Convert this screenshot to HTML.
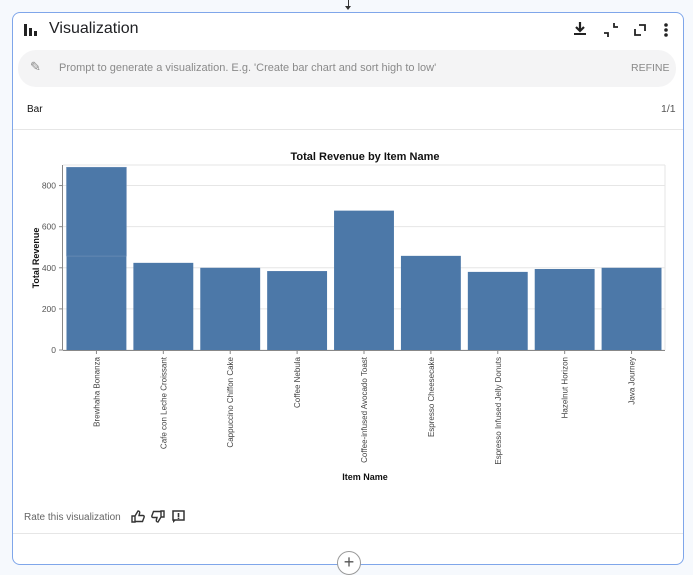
<!DOCTYPE html>
<html><head><meta charset="utf-8"><style>
body{margin:0;width:693px;height:574px;background:#f6f9fd;font-family:"Liberation Sans",sans-serif;position:relative;overflow:hidden}
.card{position:absolute;left:12px;top:12px;width:670px;height:551px;background:#fff;border:1px solid #7fa6ea;border-radius:8px}
.abs{position:absolute}
</style></head><body>
<div class="abs" style="left:348px;top:0;width:1px;height:8px;background:#333"></div>
<div class="abs" style="left:345px;top:6px;width:0;height:0;border-left:3px solid transparent;border-right:3px solid transparent;border-top:4px solid #333"></div>
<div class="card">
 <svg class="abs" style="left:10px;top:9px" width="16" height="16"><rect x="1" y="2" width="3" height="12" fill="#222"/><rect x="6" y="6" width="3" height="8" fill="#222"/><rect x="11" y="9" width="3" height="5" fill="#222"/></svg>
 <div class="abs" style="left:36px;top:7px;font-size:16px;color:#202124">Visualization</div>
 <div class="abs" style="left:560px;top:8px;font-size:14px">
  <svg width="14" height="16"><path d="M7 1v8M3 6l4 4 4-4" stroke="#222" stroke-width="2.2" fill="none"/><rect x="1" y="12" width="12" height="2" fill="#222"/></svg></div>
 <svg class="abs" style="left:590px;top:9px" width="16" height="16"><path d="M1 11h4v4M15 5h-4V1" stroke="#222" stroke-width="1.8" fill="none"/></svg>
 <svg class="abs" style="left:620px;top:10px" width="14" height="14"><path d="M2 6v6h6M12 8V2H6" stroke="#222" stroke-width="1.8" fill="none"/></svg>
 <svg class="abs" style="left:650px;top:9px" width="6" height="16"><circle cx="3" cy="3" r="1.8" fill="#222"/><circle cx="3" cy="8" r="1.8" fill="#222"/><circle cx="3" cy="13" r="1.8" fill="#222"/></svg>
 <div class="abs" style="left:5px;top:37px;width:658px;height:37px;background:#f4f4f5;border-radius:18px">
  <div class="abs" style="left:12px;top:9px;font-size:13px;color:#888">✎</div>
  <div class="abs" style="left:41px;top:12px;font-size:11px;color:#8a8a8a">Prompt to generate a visualization. E.g. 'Create bar chart and sort high to low'</div>
  <div class="abs" style="left:613px;top:12px;font-size:10.5px;color:#888">REFINE</div>
 </div>
 <div class="abs" style="left:14px;top:91px;font-size:10px;color:#111">Bar</div>
 <div class="abs" style="left:648px;top:90px;font-size:10.5px;color:#555">1/1</div>
 <div class="abs" style="left:0;top:116px;width:670px;height:1px;background:#e6e6e6"></div>
 <div class="abs" style="left:11px;top:499px;font-size:10px;color:#666">Rate this visualization</div>
 <svg class="abs" style="left:118px;top:497px" width="14" height="13"><path d="M1 6h3v6H1zM4 6l3-5c1.5 0 2 1 1.5 2.5L8 5.5h4c1 0 1.5 1 1 2l-1.5 4H4" stroke="#333" stroke-width="1.4" fill="none"/></svg>
 <svg class="abs" style="left:138px;top:497px" width="14" height="13"><path d="M13 7h-3V1h3zM10 7l-3 5c-1.5 0-2-1-1.5-2.5L6 7.5H2c-1 0-1.5-1-1-2L2.5 1.5H10" stroke="#333" stroke-width="1.4" fill="none"/></svg>
 <svg class="abs" style="left:159px;top:497px" width="13" height="13"><rect x="1" y="1" width="11" height="9" stroke="#333" stroke-width="1.5" fill="none"/><path d="M1 10v3l3-3" fill="#333"/><rect x="5.7" y="3" width="1.6" height="4" fill="#333"/><rect x="5.7" y="7.6" width="1.6" height="1.4" fill="#333"/></svg>
 <div class="abs" style="left:0;top:520px;width:670px;height:1px;background:#e6e6e6"></div>
</div>
<div class="abs" style="left:337px;top:551px;width:22px;height:22px;border:1px solid #999;border-radius:50%;background:#fff;text-align:center;line-height:21px;font-size:18px;color:#555">+</div>
<svg id="chart" class="abs" style="left:0;top:0" width="693" height="540"></svg>
<script>
const categories=["Brewhaha Bonanza","Cafe con Leche Croissant","Cappuccino Chiffon Cake","Coffee Nebula","Coffee-infused Avocado Toast","Espresso Cheesecake","Espresso Infused Jelly Donuts","Hazelnut Horizon","Java Journey"];
const seriesA=[457,424,400,384,678,458,380,394,400];
const seriesB=[432,0,0,0,0,0,0,0,0];
const yTicks=[0,200,400,600,800];
const yMax=900;
const NS="http://www.w3.org/2000/svg";
const svg=document.getElementById('chart');
const L=63,R=665,T=165,B=350;
const bw=(R-L)/categories.length;
const y=v=>B-(v/yMax)*(B-T);
const x=i=>L+i*bw;
function mk(t,a){const e=document.createElementNS(NS,t);for(const k in a)e.setAttribute(k,a[k]);svg.appendChild(e);return e;}
yTicks.forEach(t=>{
 const g=mk('line',{x1:L,x2:R,y1:y(t),y2:y(t),stroke:'#e6e6e6'});
 
 
 const tk=mk('line',{x1:L-4,x2:L,y1:y(t),y2:y(t),stroke:'#888'});
 
 
 const lb=mk('text',{x:L-7,y:y(t)+3,'text-anchor':'end','font-size':'8.5','fill':'#555','font-family':'Liberation Sans'});
 lb.textContent=t;
 
 
});
const plotTop=mk('line',{x1:L,x2:R,y1:T,y2:T,stroke:'#e6e6e6'});


const plotRight=mk('line',{x1:R,x2:R,y1:T,y2:B,stroke:'#e6e6e6'});


categories.forEach((c,i)=>{
 const x0=x(i)+3.5,w=bw-7;
 const a=mk('rect',{x:x0,y:y(seriesA[i]),width:w,height:B-y(seriesA[i]),fill:'#4c78a8'});
 
 
 if(seriesB[i]>0){
  const b=mk('rect',{x:x0,y:y(seriesA[i]+seriesB[i]),width:w,height:y(seriesA[i])-y(seriesA[i]+seriesB[i]),fill:'#4c78a8',stroke:'#6f90b8','stroke-width':0.6});
  
  
 }
 const cx=x(i)+bw/2;
 const tk=mk('line',{x1:cx,x2:cx,y1:B,y2:B+4,stroke:'#888'});
 
 
 const lb=mk('text',{transform:`translate(${cx+3},${B+7}) rotate(-90)`,'text-anchor':'end','font-size':'8','fill':'#444','font-family':'Liberation Sans'});
 lb.textContent=c;
 
 
});
const xa=mk('line',{x1:L,x2:R,y1:B+0.5,y2:B+0.5,stroke:'#888'});


const ya=mk('line',{x1:L-0.5,x2:L-0.5,y1:T,y2:B,stroke:'#888'});


const ti=mk('text',{x:365,y:160,'text-anchor':'middle','font-size':'11','font-weight':'bold','fill':'#111','font-family':'Liberation Sans'});
ti.textContent='Total Revenue by Item Name';


const xt=mk('text',{x:365,y:480,'text-anchor':'middle','font-size':'9','font-weight':'bold','fill':'#111','font-family':'Liberation Sans'});
xt.textContent='Item Name';


const yt=mk('text',{transform:'translate(39,258) rotate(-90)','text-anchor':'middle','font-size':'9','font-weight':'bold','fill':'#111','font-family':'Liberation Sans'});
yt.textContent='Total Revenue';


</script>
</body></html>
